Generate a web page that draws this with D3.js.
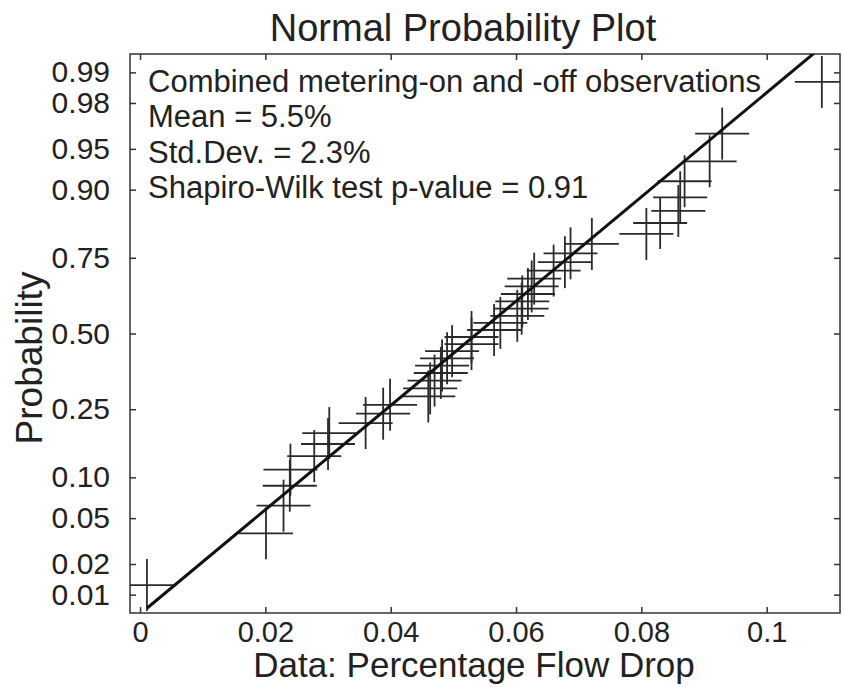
<!DOCTYPE html>
<html>
<head>
<meta charset="utf-8">
<script src="https://d3js.org/d3.v7.min.js"></script>
<style>
  body { margin: 0; background: #fff; }
  svg { font-family: "Liberation Sans", Arial, sans-serif; }
</style>
</head>
<body>
<div id="chart"></div>
<script>
// sorted observations (fraction flow drop)
var flowDrop = [
  0.0011, 0.0201, 0.0229, 0.0239, 0.0240, 0.0278, 0.0300, 0.0302, 0.0360, 0.0388,
  0.0399, 0.0460, 0.0463, 0.0470, 0.0480, 0.0482, 0.0490, 0.0498, 0.0529, 0.0529,
  0.0565, 0.0575, 0.0602, 0.0609, 0.0610, 0.0619, 0.0625, 0.0629, 0.0660, 0.0678,
  0.0687, 0.0721, 0.0808, 0.0830, 0.0859, 0.0862, 0.0869, 0.0909, 0.0929, 0.1088
];
// reference line (as drawn)
var lineMu = 0.0538, lineSigma = 0.02153;

var probTicks = [0.01, 0.02, 0.05, 0.10, 0.25, 0.50, 0.75, 0.90, 0.95, 0.98, 0.99];
var xTicks = [0, 0.02, 0.04, 0.06, 0.08, 0.1];
var notes = [
  "Combined metering-on and -off observations",
  "Mean = 5.5%",
  "Std.Dev. = 2.3%",
  "Shapiro-Wilk test p-value = 0.91"
];

// inverse normal cdf (Acklam)
function probit(p) {
  var a = [-39.69683028665376, 220.9460984245205, -275.9285104469687, 138.3577518672690, -30.66479806614716, 2.506628277459239];
  var b = [-54.47609879822406, 161.5858368580409, -155.6989798598866, 66.80131188771972, -13.28068155288572];
  var c = [-0.007784894002430293, -0.3223964580411365, -2.400758277161838, -2.549732539343734, 4.374664141464968, 2.938163982698783];
  var d = [0.007784695709041462, 0.3224671290700398, 2.445134137142996, 3.754408661907416];
  var q, r;
  if (p < 0.02425) {
    q = Math.sqrt(-2 * Math.log(p));
    return (((((c[0]*q+c[1])*q+c[2])*q+c[3])*q+c[4])*q+c[5]) / ((((d[0]*q+d[1])*q+d[2])*q+d[3])*q+1);
  } else if (p > 1 - 0.02425) {
    q = Math.sqrt(-2 * Math.log(1 - p));
    return -(((((c[0]*q+c[1])*q+c[2])*q+c[3])*q+c[4])*q+c[5]) / ((((d[0]*q+d[1])*q+d[2])*q+d[3])*q+1);
  }
  q = p - 0.5; r = q * q;
  return (((((a[0]*r+a[1])*r+a[2])*r+a[3])*r+a[4])*r+a[5])*q / (((((b[0]*r+b[1])*r+b[2])*r+b[3])*r+b[4])*r+1);
}

var W = 842, H = 687;
var margin = {top: 54, right: 2, bottom: 74, left: 130},
    width = W - margin.left - margin.right,
    height = H - margin.top - margin.bottom;

var svg = d3.select("#chart").append("svg")
    .attr("width", W).attr("height", H);
var g = svg.append("g")
    .attr("transform", "translate(" + margin.left + "," + margin.top + ")");

var x = d3.scaleLinear().domain([-0.0016, 0.1117]).range([0, width]);
// y works on normal quantiles
var yz = d3.scaleLinear().domain([-2.49, 2.49]).range([height, 0]);
function y(p) { return yz(probit(p)); }

var n = flowDrop.length;
var pts = flowDrop.map(function(v, i) { return {x: v, p: (i + 0.5) / n}; });

g.append("clipPath").attr("id", "clip")
  .append("rect").attr("width", width).attr("height", height);

// axes, ticks pointing inward
var tickLen = 6;
g.append("g")
  .call(d3.axisLeft(yz).tickValues(probTicks.map(probit)).tickSize(-tickLen).tickPadding(20)
    .tickFormat(function(z, i) { return d3.format(".2f")(probTicks[i]); }));
g.append("g").attr("transform", "translate(" + width + ",0)")
  .call(d3.axisRight(yz).tickValues(probTicks.map(probit)).tickSize(-tickLen).tickFormat(""));
var xAx = g.append("g").attr("transform", "translate(0," + height + ")")
  .call(d3.axisBottom(x).tickValues(xTicks).tickSize(-tickLen).tickPadding(8)
    .tickFormat(d3.format("~g")));
g.append("g")
  .call(d3.axisTop(x).tickValues(xTicks).tickSize(-tickLen).tickFormat(""));

g.selectAll(".domain").remove();
g.selectAll(".tick line").attr("stroke", "#333").attr("stroke-width", 1.5);
g.selectAll(".tick text").attr("font-size", 30).attr("fill", "#222")
  .attr("font-family", "Liberation Sans, Arial, sans-serif");
xAx.selectAll(".tick text").attr("font-size", 29);

// frame
g.append("rect").attr("width", width).attr("height", height)
  .attr("fill", "none").attr("stroke", "#333").attr("stroke-width", 1.5);

// plus markers
var hw = 27, hh = 26;
var marks = g.append("g").attr("clip-path", "url(#clip)")
  .attr("stroke", "#2a2a2a").attr("stroke-width", 1.8);
marks.selectAll("line.h").data(pts).enter().append("line")
  .attr("x1", function(d) { return x(d.x) - hw; })
  .attr("x2", function(d) { return x(d.x) + hw; })
  .attr("y1", function(d) { return y(d.p); })
  .attr("y2", function(d) { return y(d.p); });
marks.selectAll("line.v").data(pts).enter().append("line")
  .attr("x1", function(d) { return x(d.x); })
  .attr("x2", function(d) { return x(d.x); })
  .attr("y1", function(d) { return y(d.p) - hh; })
  .attr("y2", function(d) { return y(d.p) + hh; });

// reference line from min to max data
var x0 = d3.min(flowDrop), x1 = d3.max(flowDrop);
g.append("path").attr("clip-path", "url(#clip)")
  .datum([x0, x1])
  .attr("fill", "none").attr("stroke", "#111").attr("stroke-width", 3)
  .attr("d", d3.line()
    .x(function(v) { return x(v); })
    .y(function(v) { return yz((v - lineMu) / lineSigma); }));

// annotation
g.append("g").selectAll("text").data(notes).enter().append("text")
  .attr("x", 18)
  .attr("y", function(d, i) { return 38 + i * 35.3; })
  .attr("font-size", 31).attr("fill", "#222")
  .text(function(d) { return d; });

// titles
svg.append("text").attr("x", 463).attr("y", 41).attr("text-anchor", "middle")
  .attr("font-size", 38).attr("fill", "#222")
  .text("Normal Probability Plot");
svg.append("text").attr("x", 474).attr("y", 677).attr("text-anchor", "middle")
  .attr("font-size", 35).attr("fill", "#222")
  .text("Data: Percentage Flow Drop");
svg.append("text").attr("transform", "translate(42,358) rotate(-90)")
  .attr("text-anchor", "middle")
  .attr("font-size", 37).attr("fill", "#222")
  .text("Probability");
</script>
</body>
</html>
